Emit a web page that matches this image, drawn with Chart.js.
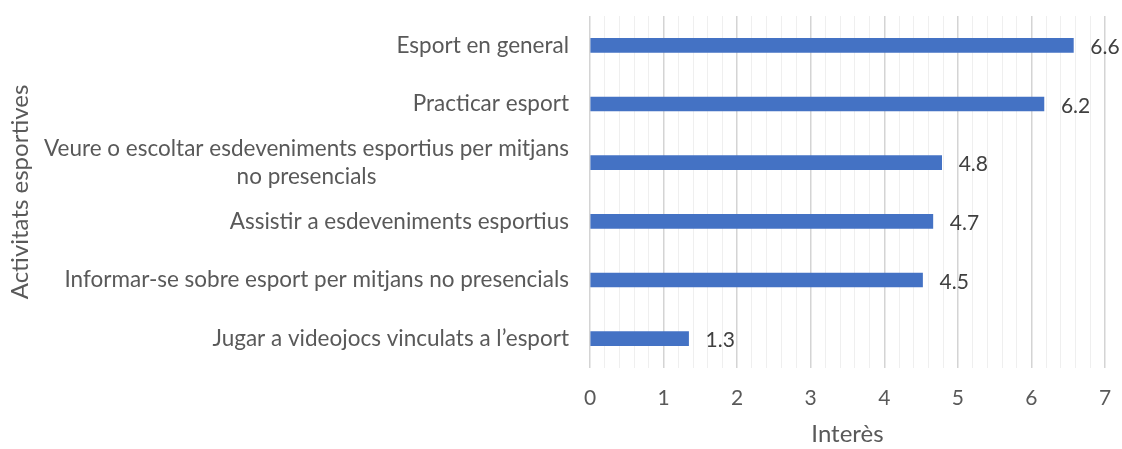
<!DOCTYPE html>
<html><head><meta charset="utf-8">
<script src="https://cdn.jsdelivr.net/npm/chart.js@4"></script>
<style>html,body{margin:0;padding:0;background:#fff}#wrap{width:1122px;height:449px}</style>
</head><body><div id="wrap"><canvas id="c" width="1122" height="449"></canvas></div>
<script>
const categories = [
  "Esport en general",
  "Practicar esport",
  ["Veure o escoltar esdeveniments esportius per mitjans", "no presencials"],
  "Assistir a esdeveniments esportius",
  "Informar-se sobre esport per mitjans no presencials",
  "Jugar a videojocs vinculats a l\u2019esport"
];
const values = [6.57, 6.17, 4.78, 4.66, 4.52, 1.34];
const valueLabels = ["6.6", "6.2", "4.8", "4.7", "4.5", "1.3"];
const xMin = 0, xMax = 7, xMinorStep = 0.2;
const xTitle = "Inter\u00e8s";
const yTitle = "Activitats esportives";

const FONT = "Lato, 'Open Sans', sans-serif";
const TXT = "#595959";

const labelPlugin = {
  id: 'customLabels',
  afterDraw(chart) {
    const ctx = chart.ctx;
    const ys = chart.scales.y;
    ctx.save();
    // category labels
    ctx.font = "22.5px " + FONT;
    ctx.fillStyle = TXT;
    ctx.textBaseline = "middle";
    const right = ys.right - 21;
    categories.forEach((lab, i) => {
      const yc = ys.getPixelForTick(i);
      const lines = Array.isArray(lab) ? lab : [lab];
      const widths = lines.map(l => ctx.measureText(l).width);
      const maxW = Math.max(...widths);
      const lh = 28;
      const y0 = yc - (lines.length - 1) * lh / 2;
      lines.forEach((l, k) => {
        ctx.textAlign = "left";
        const x = lines.length > 1 ? right - maxW + (maxW - widths[k]) / 2 : right - widths[k];
        ctx.fillText(l, x, y0 + k * lh);
      });
    });
    // y title
    ctx.save();
    ctx.font = "24px " + FONT;
    ctx.textAlign = "center";
    ctx.translate(20, (chart.chartArea.top + chart.chartArea.bottom) / 2);
    ctx.rotate(-Math.PI / 2);
    ctx.fillText(yTitle, 0, 0);
    ctx.restore();
    // value labels
    const meta = chart.getDatasetMeta(0);
    ctx.font = "21px " + FONT;
    ctx.fillStyle = "#404040";
    ctx.textAlign = "left";
    meta.data.forEach((bar, i) => {
      ctx.fillText(valueLabels[i], bar.x + 17, bar.y + 2);
    });
    ctx.restore();
  }
};

new Chart(document.getElementById('c'), {
  type: 'bar',
  data: {
    labels: categories,
    datasets: [{
      data: values,
      backgroundColor: '#4472c4',
      borderWidth: 0,
      barThickness: 14
    }]
  },
  options: {
    indexAxis: 'y',
    responsive: false,
    animation: false,
    layout: { padding: { top: 16, right: 17, left: 0, bottom: 0 } },
    plugins: { legend: { display: false }, tooltip: { enabled: false } },
    scales: {
      x: {
        type: 'linear',
        min: xMin, max: xMax,
        border: { display: false },
        ticks: {
          stepSize: xMinorStep,
          autoSkip: false,
          maxRotation: 0,
          color: TXT,
          font: { family: FONT, size: 21 },
          padding: 18,
          callback: v => Math.abs(v - Math.round(v)) < 1e-6 ? String(Math.round(v)) : ''
        },
        grid: {
          drawTicks: false,
          color: c => Math.abs(c.tick.value - Math.round(c.tick.value)) < 1e-6 ? '#d4d4d4' : '#efefef',
          lineWidth: c => Math.abs(c.tick.value - Math.round(c.tick.value)) < 1e-6 ? 1.5 : 1
        },
        title: { display: true, text: xTitle, color: TXT, font: { family: FONT, size: 24 }, padding: { top: 6, bottom: 0 } },
        afterFit: s => { s.height = 81; s.paddingRight = 0; s.paddingLeft = 0; }
      },
      y: {
        border: { display: false },
        grid: { display: false, drawTicks: false },
        ticks: { color: 'rgba(0,0,0,0)', font: { family: FONT, size: 17 } },
        title: { display: false },
        afterFit: s => { s.width = 590; }
      }
    }
  },
  plugins: [labelPlugin]
});
</script>
</body></html>
